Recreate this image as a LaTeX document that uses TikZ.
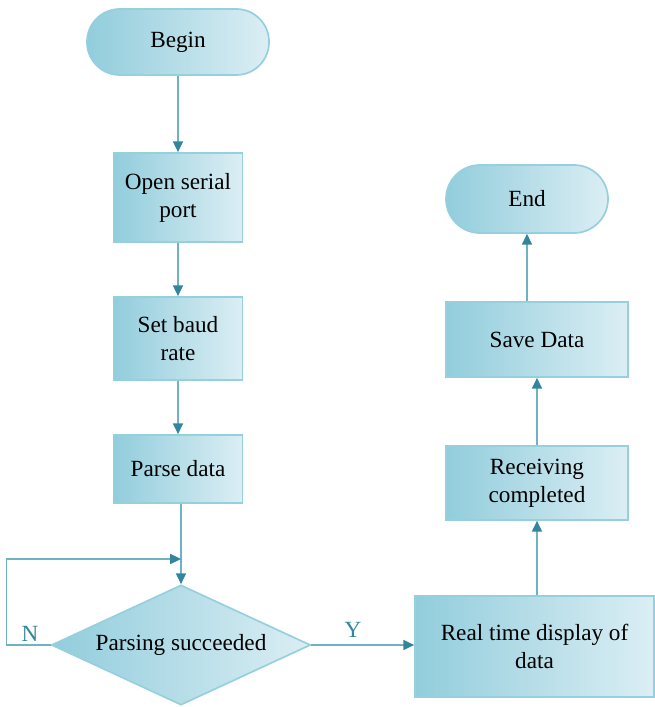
\documentclass[tikz,border=0pt]{standalone}
\usepackage{fontspec}
\setmainfont{Liberation Serif}
\usetikzlibrary{shapes.geometric,arrows.meta}

\definecolor{fillL}{RGB}{146,205,220}
\definecolor{fillR}{RGB}{219,238,244}
\definecolor{edge}{RGB}{150,207,222}
\definecolor{linecol}{RGB}{110,178,198}
\definecolor{tipcol}{RGB}{49,133,156}

\begin{document}
\begin{tikzpicture}[
          x=0.025cm, y=-0.025cm,
          font=\fontsize{16.5}{20}\selectfont,
          box/.style={draw=edge,line width=1.2pt,left color=fillL,right color=fillR,
                      inner sep=0pt,align=center},
          term/.style={box,minimum height=1.65cm,rounded corners=0.82cm},
          proc/.style={box,minimum width=3.225cm},
          cond/.style={box,diamond,shape aspect=2.16,minimum width=6.475cm,minimum height=3cm},
          link/.style={draw=linecol,line width=1.1pt,-{Triangle[length=0.27cm,width=0.25cm,color=tipcol]}},
          tag/.style={text=tipcol},
        ]

        \useasboundingbox (0,0) rectangle (654,707);

        % left column
        \node[term,minimum width=4.55cm] (begin) at (178,42) {Begin};
        \node[proc,minimum height=2.225cm] (open) at (178,197.5) {Open serial\\port};
        \node[proc,minimum height=2.075cm] (baud) at (178,338.5) {Set baud\\rate};
        \node[proc,minimum height=1.7cm] (parse) at (178,469) {Parse data};
        \node[cond] (check) at (181,645) {Parsing succeeded};

        % right column
        \node[box,minimum width=5.975cm,minimum height=2.525cm] (show) at (534.5,646.5) {Real time display of\\data};
        \node[box,minimum width=4.55cm,minimum height=1.85cm] (recv) at (537,483) {Receiving\\completed};
        \node[box,minimum width=4.55cm,minimum height=1.875cm] (save) at (537,339.5) {Save Data};
        \node[term,minimum width=4.05cm,minimum height=1.7cm,rounded corners=0.85cm] (end) at (527,199) {End};

        \coordinate (join) at (181,559);

        \draw[link] (begin) -- (open);
        \draw[link] (open) -- (baud);
        \draw[link] (baud) -- (parse);
        \draw[link] (parse.south -| check.north) -- (check.north);
        \draw[link] (check.west) -- ++(-44,0) |- (join);
        \draw[link] (check.east) -- (check.east -| show.west);
        \draw[link] (recv.south |- show.north) -- (recv.south);
        \draw[link] (recv) -- (save);
        \draw[link] (save.north -| end.south) -- (end.south);

        \path (30,634) node[tag] (no) {N};
        \path (353,630) node[tag] (yes) {Y};

      \end{tikzpicture}
\end{document}
